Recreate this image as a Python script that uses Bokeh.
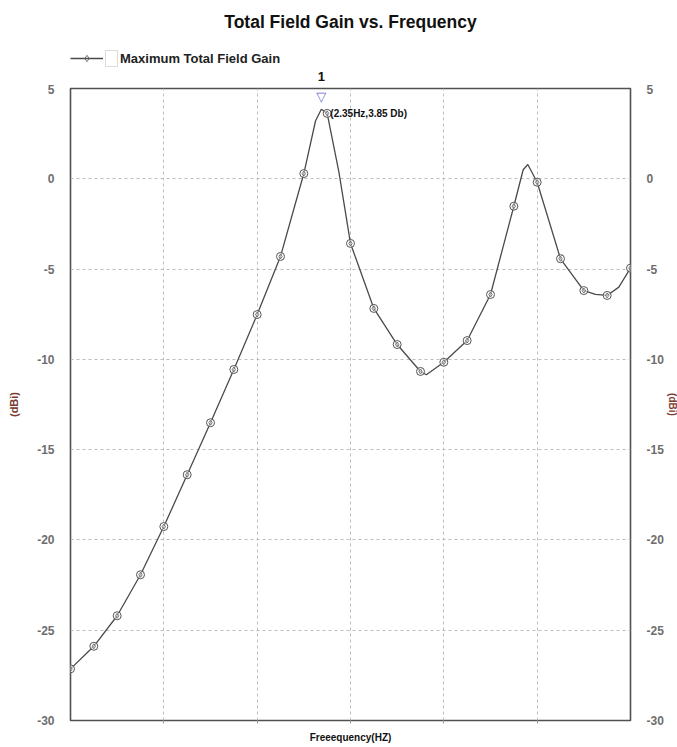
from bokeh.plotting import figure
from bokeh.layouts import column
from bokeh.models import (Range1d, LinearAxis, FixedTicker, Legend, LegendItem, Label,
                          BoxAnnotation)
from bokeh.embed import file_html
from bokeh.resources import INLINE

# ---- data ----
freq = [0.2, 0.4, 0.6, 0.8, 1.0, 1.2, 1.4, 1.6, 1.8, 2.0, 2.2, 2.4, 2.6,
        2.8, 3.0, 3.2, 3.4, 3.6, 3.8, 4.0, 4.2, 4.4, 4.6, 4.8, 5.0]
gain = [-27.14, -25.89, -24.20, -21.93, -19.26, -16.39, -13.51, -10.56, -7.52,
        -4.30, 0.29, 3.62, -3.58, -7.18, -9.18, -10.67, -10.16, -8.96, -6.41,
        -1.52, -0.19, -4.43, -6.19, -6.46, -4.95]
# the drawn (smooth) curve: sample points plus the visible apexes
curve_freq = [0.2, 0.4, 0.6, 0.8, 1.0, 1.2, 1.4, 1.6, 1.8, 2.0, 2.2, 2.3, 2.35, 2.4, 2.5, 2.6,
              2.8, 3.0, 3.2, 3.25, 3.4, 3.6, 3.8, 4.0, 4.08, 4.12, 4.2, 4.4, 4.6, 4.7, 4.8, 4.9, 5.0]
curve_gain = [-27.14, -25.89, -24.20, -21.93, -19.26, -16.39, -13.51, -10.56, -7.52, -4.30, 0.29, 3.2, 3.85, 3.62, 0.4, -3.58,
              -7.18, -9.18, -10.67, -10.85, -10.16, -8.96, -6.41, -1.52, 0.5, 0.79, -0.19, -4.43, -6.19, -6.4, -6.46, -6.0, -4.95]
peak_freq = 2.35
peak_gain = 3.85
peak_id = "1"
title_text = "Total Field Gain vs. Frequency"
series_name = "Maximum Total Field Gain"
y_ticks = [5, 0, -5, -10, -15, -20, -25, -30]
x_grid = [1.0, 1.8, 2.6, 3.4, 4.2]
x_start, x_end = 0.2, 5.0
y_start, y_end = -30, 5

FONT = "Liberation Sans"
LINE_COLOR = "#4a4a4a"
MARK_COLOR = "#555555"

xr = Range1d(x_start, x_end)

# ================= main plot =================
p = figure(frame_width=560, frame_height=632,
           x_range=xr, y_range=Range1d(y_start, y_end),
           output_backend="svg", toolbar_location=None,
           min_border_left=70, min_border_right=47, min_border_top=4, min_border_bottom=27,
           background_fill_color="white", border_fill_color="white",
           outline_line_color="#505050", outline_line_width=1.6)

# bottom axis: no tick labels, axis title only
p.xaxis.ticker = FixedTicker(ticks=x_grid)
p.xaxis.major_label_text_color = None
p.xaxis.major_label_text_font_size = "1px"
p.xaxis.major_label_standoff = 0
p.xaxis.axis_line_color = None
p.xaxis.major_tick_line_color = "#999999"
p.xaxis.major_tick_in = 0
p.xaxis.major_tick_out = 3
p.xaxis.minor_tick_line_color = None
p.xaxis.axis_label = "Freeequency(HZ)"
p.xaxis.axis_label_standoff = 8
p.xaxis.axis_label_text_font = FONT
p.xaxis.axis_label_text_font_size = "10px"
p.xaxis.axis_label_text_font_style = "bold"
p.xaxis.axis_label_text_color = "#111111"

def style_y(ax):
    ax.ticker = FixedTicker(ticks=y_ticks)
    ax.major_label_overrides = {t: str(t) for t in y_ticks}
    ax.axis_line_color = None
    ax.major_tick_line_color = None
    ax.minor_tick_line_color = None
    ax.major_label_standoff = 10
    ax.major_label_text_font = FONT
    ax.major_label_text_font_size = "12px"
    ax.major_label_text_font_style = "bold"
    ax.major_label_text_color = "#6e6e6e"
    ax.axis_label = "(dBi)"
    ax.axis_label_text_font = FONT
    ax.axis_label_text_font_size = "11px"
    ax.axis_label_text_font_style = "bold"
    ax.axis_label_text_color = "#7b3a2e"

style_y(p.yaxis[0])
p.yaxis[0].axis_label_standoff = 14
right_axis = LinearAxis()
style_y(right_axis)
right_axis.axis_label_standoff = 0
right_axis.axis_label_text_font_size = "10px"
p.add_layout(right_axis, "right")

p.xgrid.ticker = FixedTicker(ticks=x_grid)
p.ygrid.ticker = FixedTicker(ticks=y_ticks)
for g in (p.xgrid, p.ygrid):
    g.grid_line_color = "#bdbdbd"
    g.grid_line_dash = "3 3"
    g.grid_line_width = 1

line = p.line(curve_freq, curve_gain, line_color=LINE_COLOR, line_width=1.3)
circ = p.scatter(freq, gain, marker="circle", size=8, fill_color="white", fill_alpha=0.6,
                 line_color=MARK_COLOR, line_width=1)
dia = p.scatter(freq, gain, marker="diamond", size=5, fill_color=None,
                line_color=MARK_COLOR, line_width=0.8)

# peak marker and annotation
p.add_layout(Label(x=peak_freq, y=peak_gain, text="▽", text_align="center",
                   text_baseline="middle", y_offset=13, text_font="DejaVu Sans",
                   text_font_size="13px", text_color="#6a6ad0"))
p.add_layout(Label(x=peak_freq, y=peak_gain, text=f"({peak_freq}Hz,{peak_gain} Db)",
                   text_align="left", text_baseline="middle", x_offset=9, y_offset=-4,
                   text_font=FONT, text_font_size="10px", text_font_style="bold",
                   text_color="#111111"))

# ================= header strip: title, legend, marker id =================
top = figure(frame_width=560, frame_height=84, x_range=xr, y_range=Range1d(0, 1),
             x_axis_type=None, y_axis_type=None,
             output_backend="svg", toolbar_location=None,
             min_border_left=70, min_border_right=47, min_border_top=0, min_border_bottom=0,
             background_fill_color="white", border_fill_color="white",
             outline_line_color=None)
top.xgrid.visible = False
top.ygrid.visible = False

top.add_layout(Label(x=280, y=63, x_units="screen", y_units="screen", text=title_text,
                     text_align="center", text_baseline="alphabetic", text_font=FONT,
                     text_font_size="17.5px", text_font_style="bold", text_color="#111111"))

# legend-only renderers (a single undrawn NaN point, so the legend swatch is rendered)
nan = float("nan")
leg_line = top.line(x=[peak_freq, peak_freq], y=[nan, nan], line_color=LINE_COLOR, line_width=1.3)
leg_dia = top.scatter(x=[peak_freq], y=[nan], marker="diamond", size=5, fill_color=None,
                      line_color=MARK_COLOR, line_width=0.8)
legend = Legend(items=[LegendItem(label=series_name, renderers=[leg_line, leg_dia])],
                location=(0, 16), orientation="horizontal",
                glyph_width=33, glyph_height=16, label_height=20, label_standoff=17,
                padding=0, margin=0, spacing=0,
                border_line_color=None, background_fill_alpha=0,
                label_text_font=FONT, label_text_font_size="13px",
                label_text_font_style="bold", label_text_color="#222222")
top.add_layout(legend, "center")

# check-box square beside the legend glyph
top.add_layout(BoxAnnotation(left=35, right=47, bottom=18, top=34,
                             left_units="screen", right_units="screen",
                             bottom_units="screen", top_units="screen",
                             fill_color="white", fill_alpha=1,
                             line_color="#8a8a8a", line_width=1))

# marker id above the peak
top.add_layout(Label(x=peak_freq, y=4, y_units="screen", text=peak_id, text_align="center",
                     text_baseline="bottom", text_font=FONT, text_font_size="13px",
                     text_font_style="bold", text_color="#111111"))

layout = column(top, p, spacing=0)
open("out.html", "w").write(file_html(layout, INLINE))
